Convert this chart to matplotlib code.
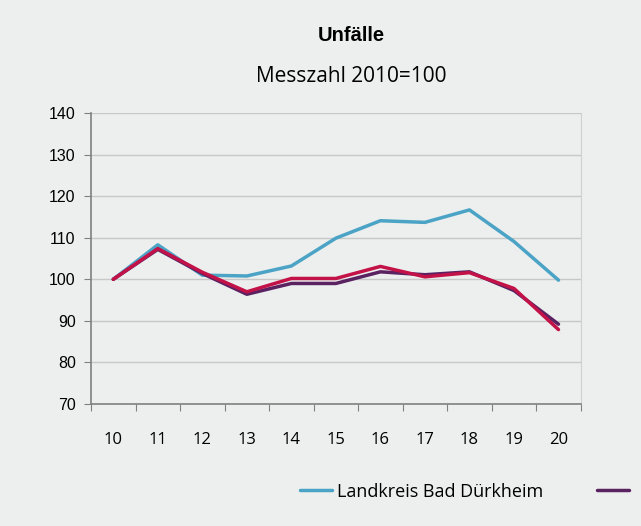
import matplotlib
matplotlib.use('Agg')
import matplotlib.pyplot as plt

years = ["10", "11", "12", "13", "14", "15", "16", "17", "18", "19", "20"]
kreis = [100, 108.3, 101.0, 100.8, 103.2, 109.9, 114.1, 113.7, 116.7, 109.1, 99.8]
land = [100, 107.2, 101.4, 96.4, 99.0, 99.0, 101.8, 101.1, 101.8, 97.3, 89.2]
bund = [100, 107.4, 101.7, 97.0, 100.2, 100.2, 103.1, 100.6, 101.6, 97.8, 87.9]
# only the first legend entry is readable, the second one is cut off at the right edge
labels = ["Landkreis Bad Dürkheim", " ", None]
colors = ["#4BA3C6", "#5B2262", "#C31248"]

bg = "#EDEFEE"
fig = plt.figure(figsize=(6.41, 5.26), dpi=100, facecolor=bg)
ax = fig.add_axes([0.142, 0.232, 0.764, 0.553], facecolor=bg)

x = range(len(years))
for ys, lab, c in zip([kreis, land, bund], labels, colors):
    ax.plot(x, ys, color=c, lw=2.5, label=lab if lab is not None else "_nolegend_",
            solid_capstyle='round')

ax.set_xlim(-0.5, len(years) - 0.5)
ax.set_ylim(70, 140)
ax.set_yticks(range(70, 141, 10))
ax.set_xticks([i - 0.5 for i in range(len(years) + 1)], minor=False)
ax.set_xticklabels([])
ax.set_xticks(list(x), minor=True)
ax.set_xticklabels(years, minor=True, fontsize=12, family="Open Sans")
ax.tick_params(axis='x', which='minor', length=0, pad=20)
ax.tick_params(axis='x', which='major', length=5, color="#808080", direction='out')
ax.tick_params(axis='y', length=5, color="#808080", labelsize=11.5, pad=6)
for t in ax.get_yticklabels():
    t.set_family("Liberation Sans")

ax.grid(axis='y', color="#C8C8C8", lw=1)
ax.set_axisbelow(True)
for s in ["left", "bottom"]:
    ax.spines[s].set_color("#808080")
    ax.spines[s].set_linewidth(1.2)
ax.spines["top"].set_visible(False)
ax.spines["right"].set_color("#D0D0D0")

fig.text(0.548, 0.933, "Unfälle", ha='center', va='center', fontsize=14.5, fontweight='bold',
         family="Liberation Sans")
fig.text(0.548, 0.855, "Messzahl 2010=100", ha='center', va='center', fontsize=15,
         family="Open Sans")

ax.legend(loc='center left', bbox_to_anchor=(0.468, 0.065), bbox_transform=fig.transFigure,
          ncol=2, frameon=False, borderpad=0, borderaxespad=0, handlelength=1.75,
          handletextpad=0.3, columnspacing=3.0, prop={'family': 'Open Sans', 'size': 13})

fig.savefig("out.png", dpi=100, facecolor=bg)
